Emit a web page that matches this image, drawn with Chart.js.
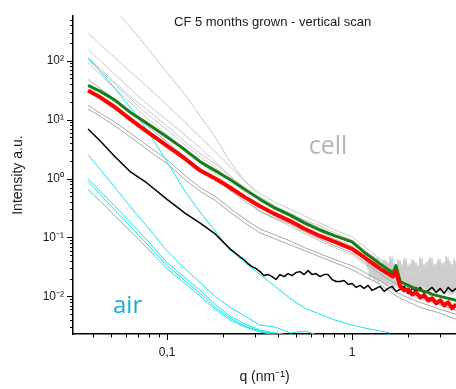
<!DOCTYPE html>
<html>
<head>
<meta charset="utf-8">
<script src="https://cdn.jsdelivr.net/npm/chart.js@4.4.1/dist/chart.umd.min.js"></script>
<style>
  html, body { margin: 0; padding: 0; background: #fff; }
  #wrap { position: relative; width: 456px; height: 389px; }
  #title { position: absolute; left: 174px; top: 14px; font: 13px 'Liberation Sans', Arial, sans-serif; color: #1a1a1a; white-space: nowrap; }
</style>
</head>
<body>
<div id="wrap">
  <canvas id="chart" width="456" height="389"></canvas>
  <div id="title">CF 5 months grown - vertical scan</div>
</div>
<script>
// q grids (nm^-1)
const qSmooth = [0.0374, 0.0435, 0.0523, 0.0631, 0.076, 0.1, 0.125, 0.151, 0.182, 0.219, 0.264, 0.318, 0.384, 0.463, 0.557, 0.671, 0.809, 1.0, 1.175, 1.416, 1.6, 1.75, 1.93, 2.33, 2.99, 3.65];
const qSpike = [1.666, 1.729];
const qNoise = [0.248, 0.261, 0.274, 0.288, 0.303, 0.318, 0.334, 0.352, 0.370, 0.388, 0.408, 0.429, 0.451, 0.474, 0.498, 0.524, 0.551, 0.579, 0.608, 0.639, 0.672, 0.706, 0.742, 0.780, 0.820, 0.862, 0.906, 0.953, 1.001, 1.053, 1.106, 1.163, 1.222, 1.285, 1.350, 1.419, 1.492, 1.568, 1.648, 1.732, 1.821, 1.914, 2.012, 2.115, 2.223, 2.336, 2.456, 2.581, 2.713, 2.852, 2.998, 3.151, 3.312, 3.481, 3.659];
const qBand = [1.190, 1.220, 1.251, 1.283, 1.315, 1.348, 1.382, 1.417, 1.453, 1.490, 1.527, 1.566, 1.605, 1.646, 1.687, 1.730, 1.773, 1.818, 1.864, 1.911, 1.959, 2.009, 2.059, 2.111, 2.164, 2.219, 2.275, 2.332, 2.391, 2.451, 2.513, 2.576, 2.641, 2.708, 2.776, 2.846, 2.918, 2.991, 3.067, 3.144, 3.223, 3.305, 3.388, 3.473, 3.561, 3.651];

// intensities (a.u.)
const redSmooth = [31.36, 23.92, 16.25, 10.22, 6.664, 3.590, 2.172, 1.365, 1.0, 0.7062, 0.4797, 0.3388, 0.2487, 0.1897, 0.1392, 0.1062, 0.08403, 0.06411, 0.04527, 0.02959, 0.02346];
const redSpike = [0.02172, 0.02635];
const redTail = [0.01475, 0.01264, 0.01314, 0.01083, 0.01170, 0.009621, 0.01042, 0.008567, 0.009256, 0.007629, 0.008567, 0.007062, 0.00793, 0.006288, 0.00734];

const greenSmooth = [38.04, 30.17, 21.30, 13.40, 9.079, 5.084, 3.076, 1.934, 1.365, 0.9621, 0.6536, 0.4440, 0.3136, 0.2392, 0.1756, 0.1340, 0.1062, 0.08403, 0.05493, 0.03590, 0.02739];
const greenSpike = [0.02535, 0.03323];
const greenTail = [0.01790, 0.01657, 0.01534, 0.01419, 0.01365, 0.01264, 0.01216, 0.01170, 0.01083, 0.01042, 0.01, 0.009621, 0.009256, 0.008905, 0.008567];

const blackSmooth = [6.927, 4.355, 2.346, 1.314, 0.8905, 0.4440, 0.2585, 0.1756, 0.1148, 0.06411];
const blackTail = [0.04705, 0.04190, 0.03590, 0.03197, 0.02959, 0.02635, 0.02258, 0.02346, 0.02172, 0.01934, 0.02346, 0.02172, 0.02439, 0.02258, 0.02535, 0.02635, 0.02346, 0.02739, 0.02346, 0.02439, 0.02172, 0.02346, 0.02346, 0.01934, 0.01790, 0.01790, 0.01861, 0.01594, 0.01657, 0.01419, 0.01534, 0.01365, 0.01534, 0.01264, 0.01365, 0.01475, 0.01216, 0.01365, 0.01475, 0.01216, 0.01314, 0.01475, 0.01126, 0.01365, 0.01216, 0.01419, 0.01126, 0.01264, 0.01419, 0.01170, 0.01365, 0.01126, 0.01419, 0.01216, 0.01365];

const cellG1 = [2683, 1501, 748.3, 373.1, 186.1, 62.88, 26.86, 11.48, 5.084, 1.934, 0.8905, 0.4986, 0.3388, 0.2585, 0.1972, 0.1564, 0.1193, 0.09079, 0.05934];
const cellG2 = [295.9, 186.1, 112.6, 65.36, 39.54, 17.56, 9.079, 5.084, 2.846, 1.594, 0.8905, 0.5600, 0.3954, 0.3017, 0.2302, 0.1756, 0.1340, 0.1022, 0.06927, 0.04355, 0.03454];
const cellG3 = [153.4, 100, 58.20, 33.88, 19.72, 9.808, 5.493, 3.323, 1.934, 1.126, 0.6794, 0.4440, 0.3259, 0.2487, 0.1897, 0.1447, 0.1104, 0.08734, 0.05934, 0.04031, 0.03197, 0.02739, 0.02258, 0.01861, 0.01534, 0.01365];
const cellL3 = [104.2, 67.94, 39.54, 23.02, 13.40, 6.664, 3.731, 2.346, 1.534, 0.9256, 0.5820, 0.3521, 0.2585, 0.1972, 0.1447, 0.1104, 0.08403, 0.06411, 0.04355, 0.02739, 0.02011, 0.01657, 0.01365, 0.01042, 0.008242, 0.006794];
const cellL4 = [92.79, 58.20, 33.88, 19.72, 11.48, 5.493, 2.846, 1.790, 1.216, 0.7340, 0.4615, 0.2792, 0.2050, 0.1564, 0.1148, 0.08734, 0.06664, 0.05084, 0.03454, 0.02172, 0.01657, 0.01419, 0.01170, 0.008905, 0.007062, 0.005820];
const cellL5 = [112.6, 73.40, 42.72, 24.87, 15.64, 7.778, 4.190, 2.635, 1.790, 1.083, 0.6794, 0.4272, 0.3017, 0.2214, 0.1625, 0.1240, 0.09436, 0.07199, 0.04891, 0.03197, 0.02535];
const cellD1 = [17.56, 12.89, 9.079, 5.934, 3.878, 2.089, 1.126, 0.7062, 0.4986, 0.3136, 0.2050, 0.1392, 0.1104, 0.08734, 0.06664, 0.05284, 0.04190, 0.03323, 0.02535, 0.01861, 0.01419, 0.01170, 0.01, 0.00793, 0.00605, 0.004986];
const cellD2 = [15.04, 11.48, 7.778, 5.084, 3.323, 1.790, 0.9621, 0.6050, 0.4272, 0.2686, 0.1756, 0.1193, 0.09436, 0.07483, 0.05934, 0.04705, 0.03731, 0.02846, 0.02172, 0.01594, 0.01216, 0.01, 0.008567, 0.006536, 0.005183, 0.004110];
const cellD3 = [47.97, 33.88, 22.14, 13.40, 8.403, 4.190, 2.346, 1.475, 1.042, 0.6288, 0.4110, 0.2792, 0.2130, 0.1689, 0.1240, 0.09436, 0.07199, 0.05493, 0.03731, 0.02439, 0.01861, 0.01594, 0.01264, 0.009621, 0.007340, 0.005820];
const cellBand1 = [0.04891, 0.02959, 0.04190, 0.02172, 0.03731, 0.01934, 0.04527, 0.01790, 0.03590, 0.01657, 0.04031, 0.01594, 0.04705, 0.01475, 0.03731, 0.01534, 0.04190, 0.01419, 0.03454, 0.01365, 0.04355, 0.01475, 0.03590, 0.01314, 0.04031, 0.01365, 0.03323, 0.01264, 0.04355, 0.01314, 0.03731, 0.01216, 0.04527, 0.01264, 0.03454, 0.01170, 0.04190, 0.01216, 0.03590, 0.01126, 0.04705, 0.01170, 0.03878, 0.01083, 0.04355, 0.01170];
const cellBand2 = [0.03731, 0.04355, 0.02089, 0.03878, 0.01861, 0.04355, 0.01657, 0.03590, 0.01722, 0.04190, 0.01534, 0.03731, 0.01594, 0.04527, 0.01419, 0.03454, 0.01475, 0.04031, 0.01365, 0.04355, 0.01419, 0.03323, 0.01314, 0.04190, 0.01365, 0.03731, 0.01264, 0.04527, 0.01314, 0.03454, 0.01216, 0.04031, 0.01264, 0.04355, 0.01170, 0.03590, 0.01216, 0.04190, 0.01126, 0.03731, 0.01170, 0.04527, 0.01083, 0.03454, 0.01126, 0.04031];

const cyanSteep = [112.6, 65.36, 33.88, 16.25, 7.483, 1.934, 0.6050, 0.2686, 0.1289, 0.06168, 0.03731, 0.02346, 0.01475, 0.009256, 0.006288, 0.004986, 0.003954, 0.003259, 0.002902, 0.002585, 0.002392];
const airA = [2.535, 1.419, 0.7062, 0.3388, 0.1689, 0.05934, 0.02959, 0.01722, 0.01, 0.006536, 0.004615, 0.003259, 0.003017, 0.002392, 0.002585, 0.00213];
const airB1 = [1.0, 0.6050, 0.3388, 0.1825, 0.09808, 0.03731, 0.02089, 0.01264, 0.00734, 0.004615, 0.003388, 0.002686, 0.002392, 0.002214];
const airB2 = [0.8905, 0.5387, 0.2902, 0.1564, 0.08403, 0.03323, 0.01861, 0.01126, 0.006536, 0.004272, 0.003136, 0.002585, 0.002302];
const airB3 = [0.6536, 0.4110, 0.2302, 0.1289, 0.07199, 0.02959, 0.01657, 0.01, 0.00605, 0.003954, 0.003017, 0.002487, 0.002214];

// axis ticks
const xMajorTicks = [0.1, 1];
const xTickLabels = ['0,1', '1'];
const xMinorTicks = [0.04, 0.05, 0.06, 0.07, 0.08, 0.09, 0.2, 0.3, 0.4, 0.5, 0.6, 0.7, 0.8, 0.9, 2, 3];
const yMajorTicks = [0.01, 0.1, 1, 10, 100];
const yTickLabels = ['10⁻²', '10⁻¹', '10⁰', '10¹', '10²'];
const yMinorTicks = [0.003, 0.004, 0.005, 0.006, 0.007, 0.008, 0.009, 0.02, 0.03, 0.04, 0.05, 0.06, 0.07, 0.08, 0.09,
  0.2, 0.3, 0.4, 0.5, 0.6, 0.7, 0.8, 0.9, 2, 3, 4, 5, 6, 7, 8, 9, 20, 30, 40, 50, 60, 70, 80, 90, 200, 300, 400, 500];

const FONT = "'Liberation Sans', Arial, sans-serif";
const LIGHT = '#c9c9c9';
const MID = '#a8a8a8';
const CYAN = '#12e4ee';

const pts = (qs, vals) => vals.map((v, i) => ({ x: qs[i], y: v }));

function series(qs, vals, color, width = 1) {
  return {
    data: pts(qs, vals),
    borderColor: color,
    borderWidth: width,
    pointRadius: 0,
    tension: 0,
    borderJoinStyle: 'round',
    fill: false
  };
}

const redQ = [...qSmooth.slice(0, 21), ...qSpike, ...qNoise.slice(40)];

// first dataset ends up on top
const datasets = [
  series(redQ, [...redSmooth, ...redSpike, ...redTail], '#ff0000', 4),
  series(redQ, [...greenSmooth, ...greenSpike, ...greenTail], '#177d17', 3),
  series([...qSmooth.slice(0, 10), ...qNoise], [...blackSmooth, ...blackTail], '#000000', 1.5),
  series(qSmooth, cyanSteep, CYAN),
  series(qSmooth, airA, CYAN),
  series(qSmooth, airB1, CYAN),
  series(qSmooth, airB2, CYAN),
  series(qSmooth, airB3, CYAN),
  series(qSmooth, cellD1, MID),
  series(qSmooth, cellD2, MID),
  series(qSmooth, cellD3, MID),
  series(qSmooth, cellL3, LIGHT),
  series(qSmooth, cellL4, LIGHT),
  series(qSmooth, cellL5, LIGHT),
  series(qSmooth, cellG1, LIGHT),
  series(qSmooth, cellG2, LIGHT),
  series(qSmooth, cellG3, LIGHT),
  series(qBand, cellBand1, '#cdcdcd', 1.5),
  series(qBand, cellBand2, '#cdcdcd', 1.5)
];

const tickMarks = {
  id: 'tickMarks',
  afterDraw(chart) {
    const { ctx, chartArea: a, scales: { x, y } } = chart;
    ctx.save();
    ctx.strokeStyle = '#000';
    ctx.lineWidth = 1;
    ctx.beginPath();
    const xt = (v, len) => {
      const p = Math.round(x.getPixelForValue(v)) + 0.5;
      ctx.moveTo(p, a.bottom);
      ctx.lineTo(p, a.bottom + len);
    };
    const yt = (v, len) => {
      const p = Math.round(y.getPixelForValue(v)) + 0.5;
      ctx.moveTo(a.left, p);
      ctx.lineTo(a.left - len, p);
    };
    xMajorTicks.forEach(v => xt(v, 6));
    xMinorTicks.forEach(v => xt(v, 3.5));
    yMajorTicks.forEach(v => yt(v, 6));
    yMinorTicks.forEach(v => yt(v, 3));
    ctx.stroke();
    ctx.restore();
  }
};

const notes = [
  { text: 'cell', q: 0.742, i: 2.63, color: '#b5b5b5', size: 25 },
  { text: 'air', q: 0.0612, i: 0.00518, color: '#1ca7e1', size: 24 }
];

const noteLabels = {
  id: 'noteLabels',
  afterDatasetsDraw(chart) {
    const { ctx, scales: { x, y } } = chart;
    ctx.save();
    ctx.textAlign = 'center';
    ctx.textBaseline = 'alphabetic';
    notes.forEach(n => {
      ctx.fillStyle = n.color;
      ctx.font = `${n.size}px 'Open Sans', sans-serif`;
      ctx.fillText(n.text, x.getPixelForValue(n.q), y.getPixelForValue(n.i));
    });
    ctx.restore();
  }
};

const tickFont = { family: FONT, size: 12 };

new Chart(document.getElementById('chart'), {
  type: 'line',
  data: { datasets },
  options: {
    responsive: false,
    animation: false,
    events: [],
    layout: { padding: { top: 13, right: 0, bottom: 0, left: 0 } },
    plugins: { legend: { display: false }, tooltip: { enabled: false } },
    scales: {
      x: {
        type: 'logarithmic',
        min: 0.031,
        max: 3.65,
        afterBuildTicks: s => { s.ticks = [...xMajorTicks, ...xMinorTicks].sort((a, b) => a - b).map(v => ({ value: v })); },
        afterFit: s => { s.height = 55; },
        grid: { display: false, drawTicks: false },
        border: { display: true, color: '#000', width: 1.5 },
        ticks: {
          autoSkip: false, maxRotation: 0, padding: 11, color: '#1a1a1a', font: tickFont,
          callback: v => { const i = xMajorTicks.indexOf(v); return i >= 0 ? xTickLabels[i] : ''; }
        },
        title: { display: true, text: 'q (nm⁻¹)', color: '#1a1a1a', font: { family: FONT, size: 14 }, padding: { top: 0, bottom: 3 } }
      },
      y: {
        type: 'logarithmic',
        min: 0.0023,
        max: 570,
        afterBuildTicks: s => { s.ticks = [...yMajorTicks, ...yMinorTicks].sort((a, b) => a - b).map(v => ({ value: v })); },
        afterFit: s => { s.width = 73; },
        grid: { display: false, drawTicks: false },
        border: { display: true, color: '#000', width: 1.5 },
        ticks: {
          autoSkip: false, padding: 9, color: '#1a1a1a', font: tickFont,
          callback: v => { const i = yMajorTicks.indexOf(v); return i >= 0 ? yTickLabels[i] : ''; }
        },
        title: { display: true, text: 'Intensity a.u.', color: '#1a1a1a', font: { family: FONT, size: 14 }, padding: { top: 10, bottom: 0 } }
      }
    }
  },
  plugins: [tickMarks, noteLabels]
});
</script>
</body>
</html>
